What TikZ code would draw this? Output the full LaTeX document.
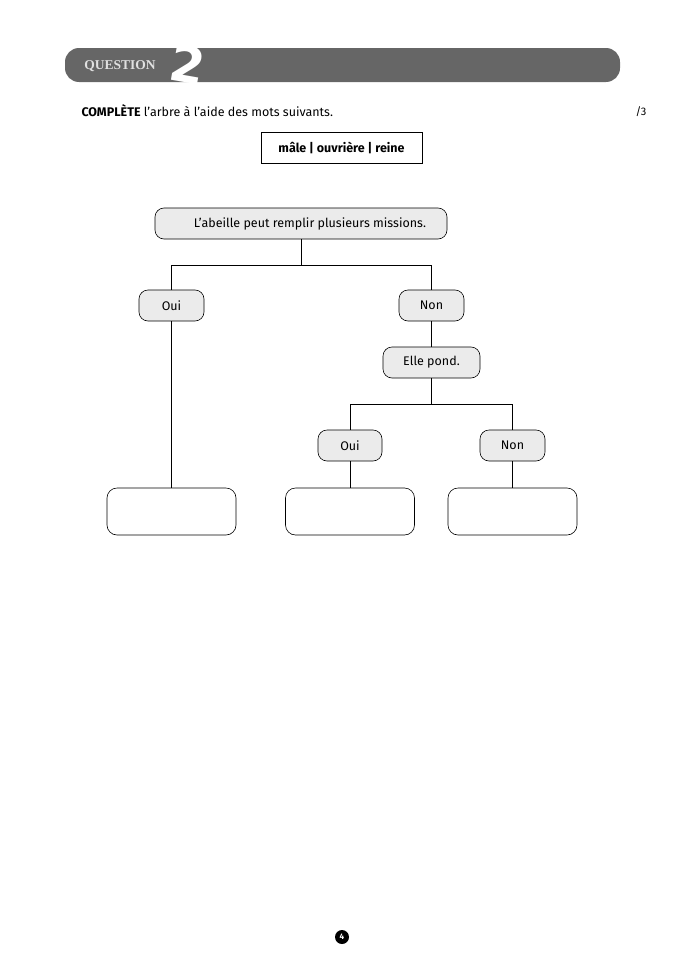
\documentclass[tikz,border=0pt]{standalone}
\usepackage{fontspec}
\setmainfont{Fira Sans}
\begin{document}
\begin{tikzpicture}[x=1pt,y=-1pt,
  bub/.style={draw,rounded corners=9pt,fill=black!8,line width=0.6pt,inner sep=0pt,font=\fontsize{12.5}{14}\selectfont},
  ans/.style={draw,rounded corners=10pt,fill=white,line width=0.6pt,minimum width=129pt,minimum height=47pt},
  con/.style={line width=0.6pt}]
\useasboundingbox (0,0) rectangle (685,969);
\fill[black!60,rounded corners=14pt] (65,48) rectangle (620,82);
\node[font=\bfseries\fontsize{13.5}{14}\selectfont,text=black!12] (q) at (120,66) {\fontspec{Liberation Serif}QUESTION};
\node[font=\bfseries\fontsize{50}{50}\selectfont,text=white,rotate=-10,inner sep=0pt] (two) at (188,64) {\fontspec{DejaVu Sans}2};
\node[anchor=west,font=\fontsize{12.5}{14}\selectfont] (ins) at (78,111) {\textbf{COMPLÈTE} l’arbre à l’aide des mots suivants.};
\node[font=\fontsize{11}{13}\selectfont] (pts) at (641,112) {/3};
\node[draw,line width=0.5pt,fill=white,minimum width=161pt,minimum height=31pt,font=\bfseries\fontsize{12.5}{14}\selectfont] (words) at (341.5,147.5) {mâle | ouvrière | reine};
\node[bub,minimum width=292pt,minimum height=31pt] (root) at (301,223.5) {\hspace*{18pt}L'abeille peut remplir plusieurs missions.};
\node[bub,minimum width=65pt,minimum height=31pt] (oui1) at (171.5,305.5) {Oui};
\node[bub,minimum width=65pt,minimum height=31pt] (non1) at (431.5,305.5) {Non};
\node[bub,minimum width=97pt,minimum height=31pt] (elle) at (431.5,362.5) {Elle pond.};
\node[bub,minimum width=64pt,minimum height=31pt] (oui2) at (350,445.5) {Oui};
\node[bub,minimum width=65pt,minimum height=31pt] (non2) at (512.5,445.5) {Non};
\node[ans] (a1) at (171.5,511.5) {};
\node[ans] (a2) at (350,511.5) {};
\node[ans] (a3) at (512.5,511.5) {};
\coordinate (j1) at (301,265);
\coordinate (j2) at (431.5,404);
\draw[con] (root.south) -- (j1) -| (oui1.north);
\draw[con] (j1) -| (non1.north);
\draw[con] (oui1.south) -- (a1.north);
\draw[con] (non1.south) -- (elle.north);
\draw[con] (elle.south) -- (j2) -| (oui2.north);
\draw[con] (j2) -| (non2.north);
\draw[con] (oui2.south) -- (a2.north);
\draw[con] (non2.south) -- (a3.north);
\node[circle,fill=black,inner sep=0pt,minimum size=14pt,text=white,font=\bfseries\fontsize{8}{9}\selectfont] (pg) at (342,937) {4};
\end{tikzpicture}
\end{document}
